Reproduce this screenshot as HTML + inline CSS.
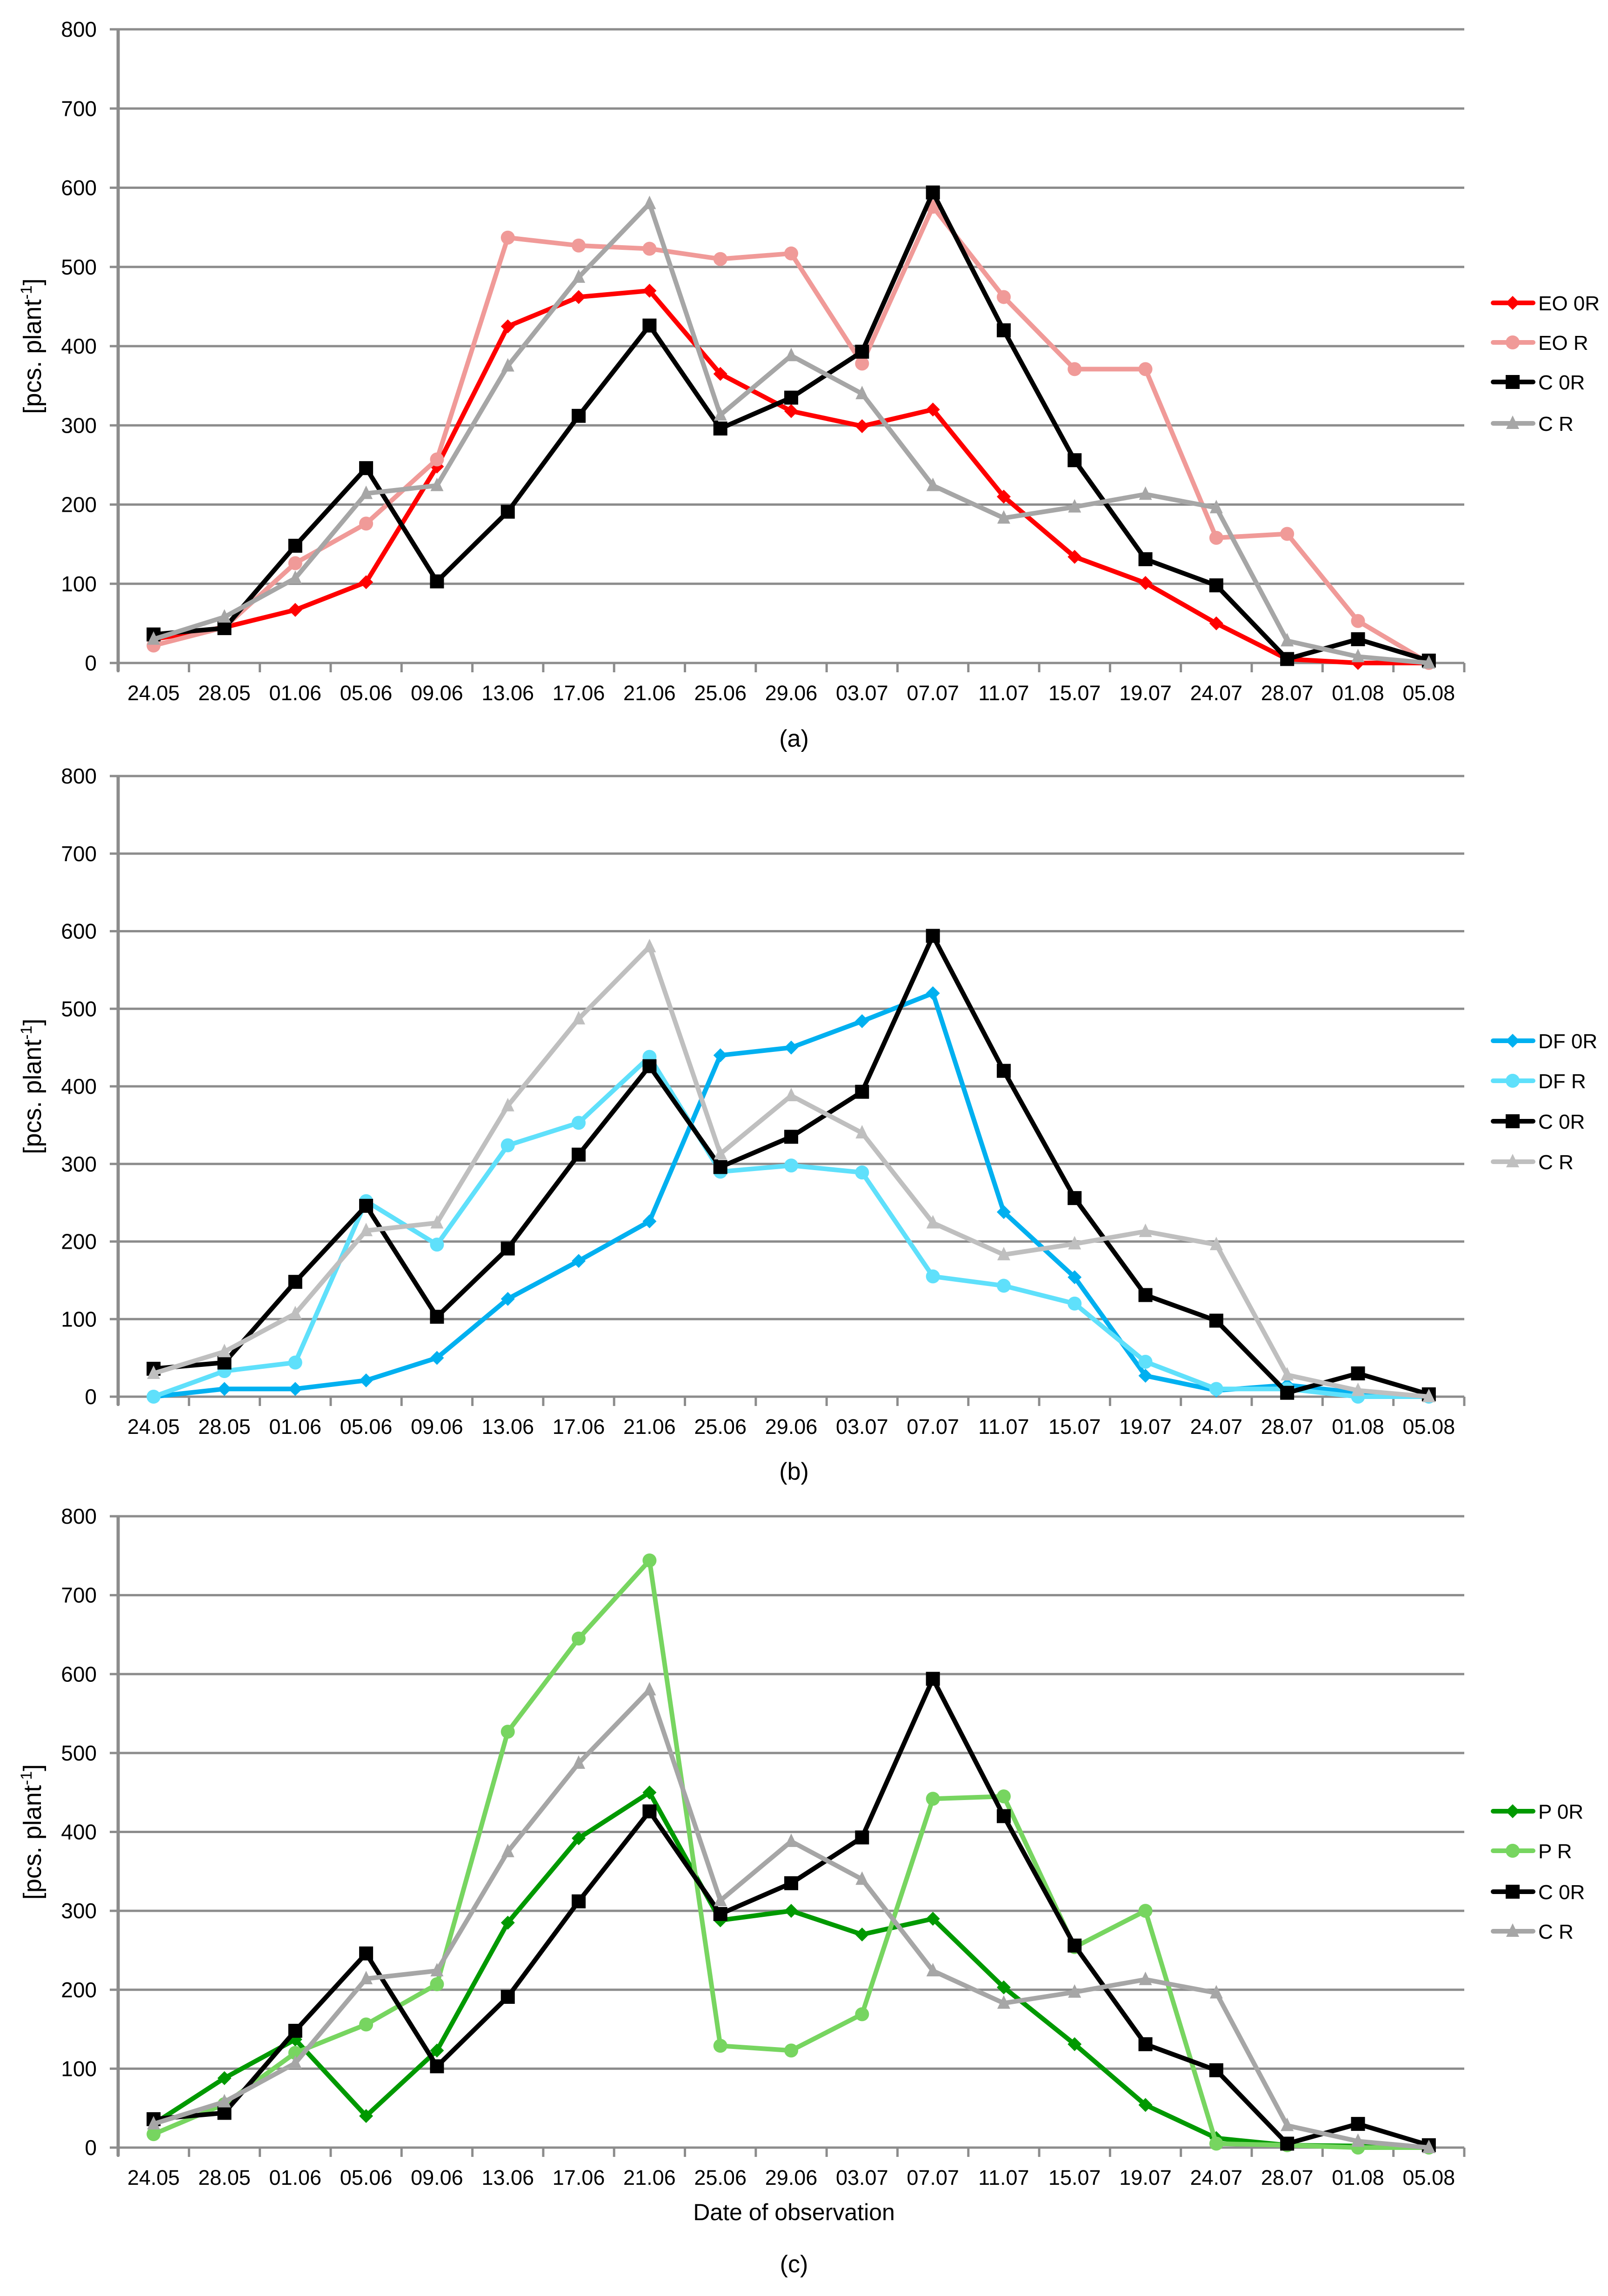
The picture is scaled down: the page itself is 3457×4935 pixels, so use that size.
<!DOCTYPE html>
<html><head><meta charset="utf-8"><style>
html,body{margin:0;padding:0;background:#fff;}
svg{display:block;font-family:"Liberation Sans",sans-serif;}
</style></head><body>
<svg id="chart" width="3457" height="4935" viewBox="0 0 3457 4935" xmlns="http://www.w3.org/2000/svg"></svg>
<script>
const categories = ["24.05","28.05","01.06","05.06","09.06","13.06","17.06","21.06","25.06","29.06","03.07","07.07","11.07","15.07","19.07","24.07","28.07","01.08","05.08"];
const yTicks = [0,100,200,300,400,500,600,700,800];
const c0R = [36,44,148,246,103,191,312,426,296,335,393,594,420,256,131,98,5,30,3];
const cR = [30,58,107,214,224,375,487,580,313,388,340,224,183,197,213,196,28,8,0];
const eo0R = [30,45,67,102,248,425,462,470,365,318,299,320,210,134,101,50,5,0,0];
const eoR = [22,45,126,176,257,537,527,523,510,517,378,576,462,371,371,158,163,53,0];
const df0R = [0,10,10,21,50,126,175,226,440,450,484,520,238,154,27,8,15,5,0];
const dfR = [0,33,44,252,196,324,353,438,290,298,289,155,143,120,45,10,10,0,0];
const p0R = [30,88,137,40,123,285,392,450,288,300,270,290,203,131,54,12,3,2,0];
const pR = [17,55,120,156,207,527,645,744,129,123,169,442,445,254,300,5,3,0,0];

const NS="http://www.w3.org/2000/svg";
const svg=document.getElementById('chart');
function mk(tag,attrs,parent){const e=document.createElementNS(NS,tag);for(const k in attrs)e.setAttribute(k,attrs[k]);(parent||svg).appendChild(e);return e;}

const panels=[
 {id:'a',top:63,bot:1425,label:'(a)',labelY:1605,legY:[651,736,821,910],
  series:[{n:'EO 0R',d:eo0R,c:'#ff0000',m:'diamond'},{n:'EO R',d:eoR,c:'#f09a98',m:'circle'},{n:'C 0R',d:c0R,c:'#000000',m:'square'},{n:'C R',d:cR,c:'#a6a6a6',m:'triangle'}]},
 {id:'b',top:1668,bot:3002,label:'(b)',labelY:3180,legY:[2237,2323,2410,2497],
  series:[{n:'DF 0R',d:df0R,c:'#00b0f0',m:'diamond'},{n:'DF R',d:dfR,c:'#5fe0fb',m:'circle'},{n:'C 0R',d:c0R,c:'#000000',m:'square'},{n:'C R',d:cR,c:'#bfbfbf',m:'triangle'}]},
 {id:'c',top:3259,bot:4616,label:'(c)',labelY:4884,legY:[3893,3978,4066,4151],
  series:[{n:'P 0R',d:p0R,c:'#009900',m:'diamond'},{n:'P R',d:pR,c:'#77d560',m:'circle'},{n:'C 0R',d:c0R,c:'#000000',m:'square'},{n:'C R',d:cR,c:'#a6a6a6',m:'triangle'}]}
];
const L=254,R=3148;
const step=(R-L)/categories.length;
function xs(i){return L+step*(i+0.5);}

function marker(g,type,x,y,color){
  let e;
  if(type==='diamond') e=mk('polygon',{points:`${x},${y-15} ${x+15},${y} ${x},${y+15} ${x-15},${y}`,fill:color},g);
  else if(type==='circle') e=mk('circle',{cx:x,cy:y,r:15,fill:color},g);
  else if(type==='square') e=mk('rect',{x:x-15,y:y-15,width:30,height:30,fill:color},g);
  else e=mk('polygon',{points:`${x},${y-17} ${x+14},${y+12} ${x-14},${y+12}`,fill:color},g);
  
  
}

panels.forEach(p=>{
  const ys=v=>p.bot-(v/800)*(p.bot-p.top);
  const g=mk('g',{});
  
  
  yTicks.forEach(t=>{
    const y=ys(t);
    const gl=mk('line',{x1:L-18,x2:R,y1:y,y2:y,stroke:'#8c8c8c','stroke-width':5},g);
    
    
    const tl=mk('text',{x:208,y:y+16,'text-anchor':'end','font-size':46,fill:'#000'},g);
    tl.textContent=t;
    
    
  });
  const ax=mk('line',{x1:L,x2:L,y1:p.top,y2:p.bot+18,stroke:'#8c8c8c','stroke-width':7},g);
  
  
  for(let i=0;i<=categories.length;i++){
    const x=L+step*i;
    const tk=mk('line',{x1:x,x2:x,y1:p.bot,y2:p.bot+20,stroke:'#8c8c8c','stroke-width':5},g);
    
    
  }
  categories.forEach((c,i)=>{
    const t=mk('text',{x:xs(i),y:p.bot+80,'text-anchor':'middle','font-size':45,fill:'#000'},g);
    t.textContent=c;
    
    
  });
  const cy=(p.top+p.bot)/2;
  const yt=mk('text',{x:0,y:0,transform:`translate(88,${cy}) rotate(-90)`,'text-anchor':'middle','font-size':54,fill:'#000'},g);
  yt.innerHTML='[pcs. plant<tspan dy="-20" font-size="34">-1</tspan><tspan dy="20">]</tspan>';
  
  
  const pl=mk('text',{x:1707,y:p.labelY,'text-anchor':'middle','font-size':52,fill:'#000'},g);
  pl.textContent=p.label;
  
  
  p.series.forEach((s,si)=>{
    const sg=mk('g',{},g);
    
    
    const pts=s.d.map((v,i)=>xs(i)+','+ys(v)).join(' ');
    const ln=mk('polyline',{points:pts,fill:'none',stroke:s.c,'stroke-width':10,'stroke-linejoin':'round'},sg);
    
    
    s.d.forEach((v,i)=>marker(sg,s.m,xs(i),ys(v),s.c));
    const ly=p.legY[si];
    const lg=mk('g',{},g);
    
    
    mk('line',{x1:3210,x2:3296,y1:ly,y2:ly,stroke:s.c,'stroke-width':10,'stroke-linecap':'round'},lg);
    marker(lg,s.m,3252,ly,s.c);
    const lt=mk('text',{x:3307,y:ly+16,'font-size':44,fill:'#000'},lg);
    lt.textContent=s.n;
  });
});
const xt=mk('text',{x:1707,y:4772,'text-anchor':'middle','font-size':50,fill:'#000'});
xt.textContent='Date of observation';


</script>
</body></html>
